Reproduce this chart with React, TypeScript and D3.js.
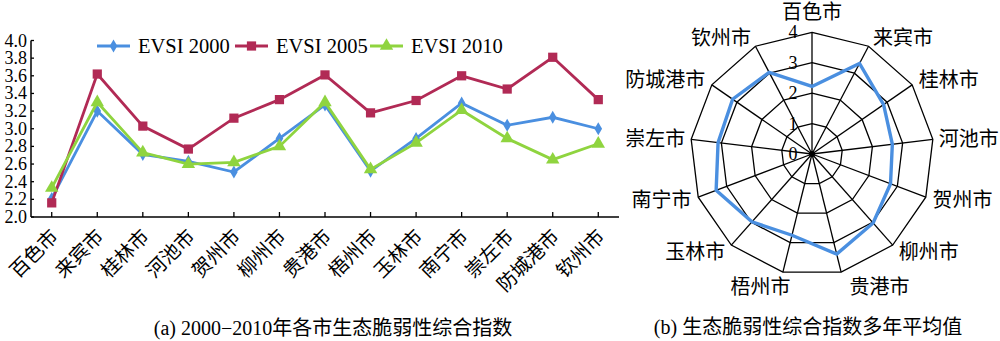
import React from 'react';
import * as d3 from 'd3';

const cities = ['百色市', '来宾市', '桂林市', '河池市', '贺州市', '柳州市', '贵港市', '梧州市', '玉林市', '南宁市', '崇左市', '防城港市', '钦州市'];
const evsi2000 = [2.21, 3.2, 2.71, 2.63, 2.51, 2.89, 3.27, 2.52, 2.89, 3.29, 3.04, 3.13, 3.0];
const evsi2005 = [2.16, 3.62, 3.03, 2.77, 3.12, 3.33, 3.61, 3.18, 3.32, 3.6, 3.45, 3.81, 3.33];
const evsi2010 = [2.33, 3.3, 2.73, 2.6, 2.62, 2.8, 3.3, 2.54, 2.84, 3.21, 2.89, 2.65, 2.83];
const meanEvsi = [2.22, 3.36, 2.86, 2.66, 2.76, 3.03, 3.39, 2.75, 2.98, 3.37, 3.11, 3.17, 3.03];
const yTicks = [2.0, 2.2, 2.4, 2.6, 2.8, 3.0, 3.2, 3.4, 3.6, 3.8, 4.0];
const radarTicks = [0, 1, 2, 3, 4];
const seriesNames = ['EVSI 2000', 'EVSI 2005', 'EVSI 2010'];
const captionA = '(a) 2000−2010年各市生态脆弱性综合指数';
const captionB = '(b) 生态脆弱性综合指数多年平均值';

const FONT = "'Liberation Serif', 'Times New Roman', 'Noto Sans CJK SC', serif";
const COLORS = ['#4a8fe0', '#b12a55', '#8fd43f'];

export default function App() {
  const W = 1000, H = 341;
  // Line chart
  const x = d3.scalePoint<string>().domain(cities).range([31, 619]).padding(0.455);
  const y = d3.scaleLinear().domain([2, 4]).range([217, 40.5]);
  const series = [evsi2000, evsi2005, evsi2010];
  const symbols = [
    d3.symbol().type(d3.symbolDiamond).size(50)(),
    d3.symbol().type(d3.symbolSquare).size(85)(),
    d3.symbol().type(d3.symbolTriangle).size(78)(),
  ];
  const line = d3.line<number>().x((_, i) => x(cities[i]) as number).y((d) => y(d));
  const legendX = [97, 235, 370];
  const legendY = 46;

  // Radar
  const cx = 812, cy = 154;
  const r = d3.scaleLinear().domain([0, 4]).range([0, 121.7]);
  const n = cities.length;
  const ang = (i: number) => (i * 2 * Math.PI) / n;
  const radial = d3.lineRadial<number>().angle((_, i) => ang(i)).radius((d) => r(d)).curve(d3.curveLinearClosed);
  const ringLevels = radarTicks.filter((t) => t > 0);

  return (
    <svg width={W} height={H} style={{ position: 'absolute', left: 0, top: 0, background: '#fff' }} fontFamily={FONT}>
      {/* Axes */}
      <line x1={31} x2={31} y1={y(4)} y2={y(2)} stroke="#000" strokeWidth={1.5} />
      <line x1={31} x2={619} y1={y(2)} y2={y(2)} stroke="#000" strokeWidth={1.5} />
      {yTicks.map((t) => (
        <g key={t}>
          <line x1={31} x2={34} y1={y(t)} y2={y(t)} stroke="#000" strokeWidth={1.3} />
          <text x={27} y={y(t)} textAnchor="end" dominantBaseline="central" fontSize={18}>
            {t.toFixed(1)}
          </text>
        </g>
      ))}
      {cities.map((c) => (
        <g key={c}>
          <line x1={x(c)} x2={x(c)} y1={y(2)} y2={y(2) - 5} stroke="#000" strokeWidth={1.3} />
          <text
            transform={`translate(${(x(c) as number) + 3},${y(2) + 16}) rotate(-45)`}
            textAnchor="end"
            dominantBaseline="central"
            fontSize={19.5}
          >
            {c}
          </text>
        </g>
      ))}
      {series.map((s, k) => (
        <g key={k}>
          <path d={line(s) || ''} fill="none" stroke={COLORS[k]} strokeWidth={2.8} />
          {s.map((v, i) => (
            <path key={i} d={symbols[k] || ''} transform={`translate(${x(cities[i])},${y(v)})`} fill={COLORS[k]} />
          ))}
        </g>
      ))}
      {/* Legend */}
      {seriesNames.map((nm, k) => (
        <g key={nm}>
          <line x1={legendX[k]} x2={legendX[k] + 33} y1={legendY} y2={legendY} stroke={COLORS[k]} strokeWidth={2.8} />
          <path d={symbols[k] || ''} transform={`translate(${legendX[k] + 16.5},${legendY})`} fill={COLORS[k]} />
          <text x={legendX[k] + 41} y={legendY} dominantBaseline="central" fontSize={20.5}>
            {nm}
          </text>
        </g>
      ))}
      <text x={333} y={328} textAnchor="middle" dominantBaseline="central" fontSize={20}>
        {captionA}
      </text>

      {/* Radar */}
      <g transform={`translate(${cx},${cy})`}>
        {ringLevels.map((lv) => (
          <path key={lv} d={radial(cities.map(() => lv)) || ''} fill="none" stroke="#000" strokeWidth={1.3} />
        ))}
        {cities.map((c, i) => (
          <line
            key={c}
            x1={0}
            y1={0}
            x2={r(4) * Math.sin(ang(i))}
            y2={-r(4) * Math.cos(ang(i))}
            stroke="#000"
            strokeWidth={1.3}
          />
        ))}
        <circle r={3} fill="#000" />
        <path d={radial(meanEvsi) || ''} fill="none" stroke={COLORS[0]} strokeWidth={3.4} />
        {radarTicks.map((t) => (
          <text key={t} x={-19} y={-r(t)} textAnchor="middle" dominantBaseline="central" fontSize={18}>
            {t}
          </text>
        ))}
        {cities.map((c, i) => {
          const a = ang(i);
          const s = Math.sin(a), co = Math.cos(a);
          const rr = 127 + 5 * Math.abs(co);
          const top = Math.abs(s) < 0.1;
          const bottom = co < -0.9;
          const anchor = top ? 'middle' : s > 0 ? 'start' : 'end';
          let lx = rr * s;
          let ly = -rr * co + (top ? -10 : 0);
          if (bottom) {
            ly += 5;
            lx += s > 0 ? 6 : 10;
          }
          return (
            <text key={c} x={lx} y={ly} textAnchor={anchor} dominantBaseline="central" fontSize={20}>
              {c}
            </text>
          );
        })}
      </g>
      <text x={808} y={327} textAnchor="middle" dominantBaseline="central" fontSize={20}>
        {captionB}
      </text>
    </svg>
  );
}
